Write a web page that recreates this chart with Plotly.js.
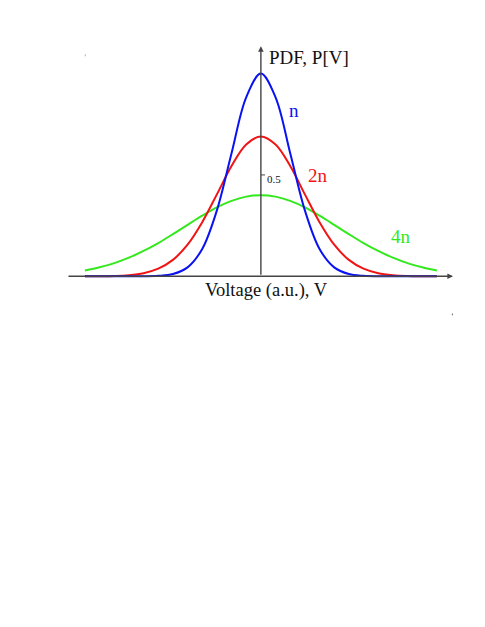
<!DOCTYPE html>
<html>
<head>
<meta charset="utf-8">
<script src="https://cdn.plot.ly/plotly-3.0.1.min.js"></script>
<style>
  html, body { margin: 0; padding: 0; background: #fff; }
  #plot { width: 485px; height: 627px; }
</style>
</head>
<body>
<div id="plot"></div>
<script>
// voltage samples (a.u.), 0 = centre of the distributions
const voltage = [-6, -5.5, -5, -4.5, -4, -3.5, -3, -2.5, -2, -1.5, -1, -0.5, 0,
                 0.5, 1, 1.5, 2, 2.5, 3, 3.5, 4, 4.5, 5, 5.5, 6];

// PDF values
const pdfN  = [0, 0, 0, 0.00004, 0.0003, 0.0022, 0.011, 0.044, 0.135, 0.325, 0.607, 0.883, 1.0,
               0.883, 0.607, 0.325, 0.135, 0.044, 0.011, 0.0022, 0.0003, 0.00004, 0, 0, 0];
const pdf2N = [0.0001, 0.0005, 0.0018, 0.0056, 0.0154, 0.0375, 0.081, 0.156, 0.267, 0.404, 0.544, 0.650, 0.690,
               0.650, 0.544, 0.404, 0.267, 0.156, 0.081, 0.0375, 0.0154, 0.0056, 0.0018, 0.0005, 0.0001];
const pdf4N = [0.029, 0.045, 0.065, 0.092, 0.125, 0.164, 0.208, 0.254, 0.299, 0.340, 0.372, 0.393, 0.400,
               0.393, 0.372, 0.340, 0.299, 0.254, 0.208, 0.164, 0.125, 0.092, 0.065, 0.045, 0.029];

const seriesNames = ['n', '2n', '4n'];
const yTick = 0.5;

const serif = 'Liberation Serif, Times New Roman, serif';
const axisColor = '#444';
const blue = '#0a12f2', red = '#f01414', green = '#33e81c';

function curve(y, name, color) {
  return {
    x: voltage, y: y, name: name,
    type: 'scatter', mode: 'lines',
    line: { color: color, width: 2, shape: 'spline', smoothing: 1 },
    hoverinfo: 'skip'
  };
}

const traces = [
  curve(pdf4N, seriesNames[2], green),
  curve(pdf2N, seriesNames[1], red),
  curve(pdfN,  seriesNames[0], blue)
];

const xRange = [-6.61, 6.55];
const yRange = [-0.25, 1.2];

const layout = {
  width: 485, height: 627,
  margin: { l: 67, r: 32, t: 33, b: 300 },
  paper_bgcolor: '#fff', plot_bgcolor: '#fff',
  showlegend: false,
  xaxis: { range: xRange, visible: false, fixedrange: true },
  yaxis: { range: yRange, visible: false, fixedrange: true },
  shapes: [
    // small tick on the vertical axis
    { type: 'line', xref: 'x', yref: 'y', x0: 0, x1: 0.14, y0: yTick, y1: yTick,
      line: { color: axisColor, width: 1 } },
    // two stray specks from the scanned original
    { type: 'rect', xref: 'paper', yref: 'paper', x0: 0.046, x1: 0.049, y0: 0.928, y1: 0.921,
      fillcolor: '#bbb', line: { width: 0 } },
    { type: 'rect', xref: 'paper', yref: 'paper', x0: 0.997, x1: 1.0, y0: 0.046, y1: 0.040,
      fillcolor: '#777', line: { width: 0 } }
  ],
  annotations: [
    // horizontal axis arrow
    { xref: 'x', yref: 'y', axref: 'x', ayref: 'y', x: xRange[1], y: 0, ax: xRange[0], ay: 0,
      showarrow: true, arrowhead: 2, arrowsize: 0.8, arrowwidth: 1.4, arrowcolor: axisColor, text: '' },
    // vertical axis arrow
    { xref: 'x', yref: 'y', axref: 'x', ayref: 'y', x: 0, y: 1.135, ax: 0, ay: 0,
      showarrow: true, arrowhead: 2, arrowsize: 0.8, arrowwidth: 1.4, arrowcolor: axisColor, text: '' },
    { xref: 'x', yref: 'y', x: 0.22, y: 1.08, xanchor: 'left', yanchor: 'middle', showarrow: false,
      text: 'PDF, P[V]', font: { family: serif, size: 19, color: '#111' } },
    { xref: 'x', yref: 'y', x: 0.2, y: -0.072, xanchor: 'center', yanchor: 'middle', showarrow: false,
      text: 'Voltage (a.u.), V', font: { family: serif, size: 18.5, color: '#111' } },
    { xref: 'x', yref: 'y', x: 0.15, y: 0.48, xanchor: 'left', yanchor: 'middle', showarrow: false,
      text: String(yTick), font: { family: serif, size: 11, color: '#111' } },
    { xref: 'x', yref: 'y', x: 1.14, y: 0.817, xanchor: 'center', yanchor: 'middle', showarrow: false,
      text: seriesNames[0], font: { family: serif, size: 19, color: blue } },
    { xref: 'x', yref: 'y', x: 1.96, y: 0.496, xanchor: 'center', yanchor: 'middle', showarrow: false,
      text: seriesNames[1], font: { family: serif, size: 19, color: red } },
    { xref: 'x', yref: 'y', x: 4.79, y: 0.195, xanchor: 'center', yanchor: 'middle', showarrow: false,
      text: seriesNames[2], font: { family: serif, size: 19, color: green } }
  ]
};

Plotly.newPlot('plot', traces, layout, { displayModeBar: false, staticPlot: true });
</script>
</body>
</html>
